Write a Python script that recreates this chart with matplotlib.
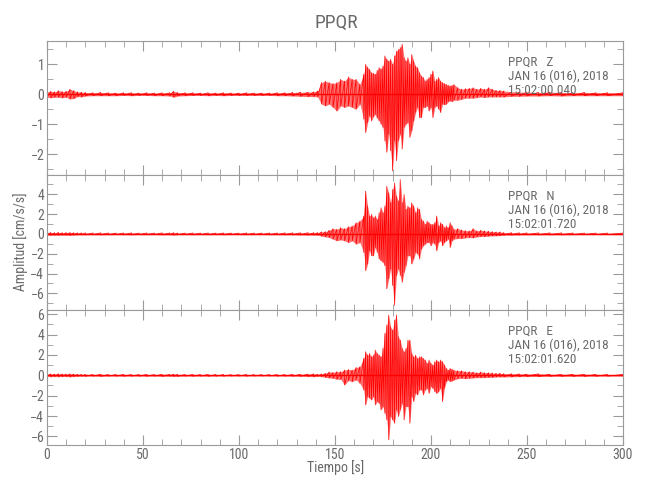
import matplotlib
matplotlib.use("Agg")
import matplotlib.pyplot as plt
from matplotlib.ticker import MultipleLocator

plt.rcParams["font.family"] = ["Roboto Condensed", "Roboto", "DejaVu Sans"]

STATION = "PPQR"
COMPONENTS = ["Z", "N", "E"]
DATE = "JAN 16 (016), 2018"
START_TIMES = ["15:02:00.040", "15:02:01.720", "15:02:01.620"]

# envelope of each trace: time [s], max, min [cm/s/s]
T_QUIET = [0, 2, 4, 6, 8, 10, 12, 14, 16, 18, 20, 24, 28, 32, 36, 40, 44, 48, 52, 56,
           60, 64, 66, 68, 72, 76, 80, 84, 88, 92, 96, 100, 104, 108, 112, 116, 120,
           124, 128, 132, 136, 139]
T_ACTIVE = [141, 143, 145, 147, 149, 151, 153, 155, 157, 159, 161, 163, 165, 166, 167,
            168, 169, 170, 171, 172, 173, 174, 175, 176, 177, 178, 179, 180, 181, 182,
            183, 184, 185, 186, 187, 188, 189, 190, 191, 192, 193, 194, 195, 196, 197,
            198, 199, 200, 201, 202, 203, 204, 205, 206, 207, 208, 209, 210, 211, 212,
            214, 216, 218, 220, 222, 224, 226, 228, 230, 232, 234, 236, 238]
T_CODA = [242, 246, 250, 256, 262, 268, 274, 280, 286, 292, 300]

z_quiet_max = [.08, .10, .08, .12, .09, .10, .17, .12, .08, .07, .06, .05, .06, .05, .04,
               .05, .05, .04, .05, .04, .05, .05, .10, .06, .05, .05, .04, .05, .04, .05,
               .04, .04, .05, .04, .04, .04, .05, .05, .06, .07, .07, .08]
z_quiet_min = [-.10, -.12, -.10, -.10, -.12, -.10, -.16, -.14, -.08, -.09, -.06, -.05, -.05,
               -.05, -.05, -.04, -.05, -.04, -.04, -.05, -.05, -.06, -.10, -.06, -.05, -.04,
               -.04, -.05, -.04, -.05, -.04, -.04, -.04, -.04, -.04, -.04, -.05, -.05, -.06,
               -.07, -.08, -.08]
z_active_max = [.11, .39, .44, .39, .36, .39, .50, .44, .58, .50, .50, .33, .67, 1.00, .90,
                .83, .72, .70, .67, .80, .89, .85, .94, 1.28, 1.17, 1.11, 1.17, 1.00, 1.28,
                1.44, 1.50, 1.56, 1.67, 1.22, 1.11, 1.22, 1.00, 1.33, 1.11, .94, .89, .72,
                .61, .56, .44, .50, .56, .67, .78, .44, .50, .56, .44, .39, .36, .33, .30,
                .28, .30, .33, .22, .17, .19, .20, .22, .17, .20, .17, .22, .17, .13, .13, .11]
z_active_min = [-.09, -.33, -.39, -.33, -.44, -.56, -.39, -.44, -.39, -.44, -.50, -.33, -.83,
                -1.28, -.95, -.72, -.89, -.75, -.67, -.80, -.89, -1.00, -1.11, -1.56, -1.94,
                -1.33, -1.89, -2.56, -1.56, -2.22, -1.56, -1.33, -1.83, -1.11, -1.00, -.94,
                -1.44, -1.22, -.89, -.61, -.44, -.78, -.78, -.44, -.44, -.39, -.56, -.44,
                -.78, -.44, -.39, -.50, -.61, -.33, -.35, -.33, -.25, -.22, -.25, -.20, -.20,
                -.17, -.13, -.13, -.13, -.11, -.09, -.11, -.09, -.09, -.09, -.09, -.09]
z_coda_max = [.08, .07, .07, .06, .07, .06, .05, .06, .05, .05, .05]
z_coda_min = [-.07, -.07, -.06, -.06, -.05, -.06, -.05, -.05, -.05, -.05, -.05]

n_quiet_max = [.15, .14, .12, .15, .12, .13, .14, .12, .10, .10, .10, .09, .10, .09, .08,
               .09, .10, .08, .09, .08, .10, .09, .12, .09, .08, .09, .08, .09, .08, .09,
               .08, .08, .09, .08, .08, .09, .09, .10, .10, .11, .12, .12]
n_quiet_min = [-.15, -.14, -.13, -.14, -.12, -.13, -.15, -.12, -.10, -.10, -.10, -.09, -.10,
               -.09, -.08, -.09, -.10, -.08, -.09, -.08, -.10, -.09, -.12, -.09, -.08, -.09,
               -.08, -.09, -.08, -.09, -.08, -.08, -.09, -.08, -.08, -.09, -.09, -.10, -.10,
               -.11, -.12, -.12]
n_active_max = [.13, .20, .23, .37, .53, .47, .63, .53, .73, .80, 1.13, 1.30, 1.80, 4.30, 2.80,
                1.80, 1.97, 1.63, 1.80, 1.47, 2.13, 2.63, 2.13, 2.80, 4.80, 4.13, 3.13, 4.47,
                5.13, 3.80, 3.30, 5.47, 3.13, 3.97, 2.47, 2.80, 2.63, 3.13, 2.80, 2.13, 2.63,
                2.47, 1.47, 1.30, .97, 1.30, 1.13, .97, .97, 1.13, 1.80, .80, 1.13, .97, .63,
                .80, .63, 1.13, .80, .47, .53, .40, .33, .30, .53, .30, .37, .30, .27, .23,
                .20, .20, .13]
n_active_min = [-.13, -.23, -.30, -.37, -.53, -.70, -.60, -.70, -.87, -.70, -1.03, -.87, -1.87,
                -3.70, -3.03, -1.70, -2.20, -2.20, -1.37, -1.87, -2.53, -2.70, -2.87, -3.20,
                -5.53, -4.53, -3.53, -5.20, -7.20, -4.20, -3.53, -4.20, -4.87, -3.87, -3.20,
                -2.20, -2.20, -3.03, -2.53, -1.87, -2.03, -2.53, -1.53, -1.20, -1.03, -.87,
                -.87, -1.20, -.87, -1.03, -1.70, -.87, -.70, -1.20, -.87, -.70, -.53, -1.37,
                -.70, -.53, -.47, -.47, -.40, -.37, -.40, -.30, -.27, -.27, -.23, -.20, -.20,
                -.17, -.13]
n_coda_max = [.12, .11, .10, .10, .10, .10, .09, .08, .08, .08, .08]
n_coda_min = [-.12, -.11, -.10, -.10, -.10, -.10, -.09, -.08, -.08, -.08, -.08]

e_quiet_max = [.12, .14, .12, .15, .13, .12, .14, .12, .10, .09, .09, .08, .10, .08, .08,
               .09, .08, .08, .09, .08, .10, .09, .12, .10, .08, .09, .08, .09, .08, .08,
               .07, .07, .08, .07, .07, .07, .08, .08, .09, .10, .12, .14]
e_quiet_min = [-.12, -.14, -.12, -.14, -.12, -.12, -.15, -.12, -.10, -.09, -.09, -.08, -.10,
               -.08, -.08, -.09, -.08, -.08, -.09, -.08, -.10, -.09, -.11, -.10, -.08, -.09,
               -.08, -.09, -.08, -.08, -.07, -.07, -.08, -.07, -.07, -.07, -.08, -.08, -.09,
               -.10, -.12, -.14]
e_active_max = [.10, .13, .20, .33, .29, .36, .36, .52, .59, .52, .78, .85, 1.67, 2.32, 1.99,
                2.16, 1.83, 1.99, 2.48, 2.16, 1.99, 1.83, 2.65, 4.12, 4.93, 5.92, 4.77, 4.44,
                5.42, 5.92, 3.79, 3.46, 2.65, 2.32, 2.65, 3.46, 3.46, 2.16, 1.83, 1.99, 1.67,
                1.83, 1.83, 1.67, 1.50, 1.18, 1.50, 1.18, 1.01, 1.34, 1.50, 1.34, 1.50, 1.34,
                1.01, .69, .52, .69, .60, .52, .46, .46, .36, .36, .33, .26, .33, .26, .26,
                .23, .20, .20, .16]
e_active_min = [-.10, -.13, -.20, -.26, -.29, -.39, -.39, -.95, -.52, -.62, -.46, -.78, -1.44,
                -2.91, -2.09, -2.25, -2.42, -2.09, -2.91, -2.58, -2.75, -3.40, -3.07, -3.73,
                -4.38, -6.34, -4.05, -4.38, -4.71, -3.40, -4.05, -3.40, -2.75, -4.38, -3.07,
                -3.07, -4.71, -2.09, -2.58, -1.77, -1.93, -1.44, -1.44, -1.93, -1.44, -1.28,
                -1.77, -1.11, -1.28, -1.60, -1.77, -1.60, -1.28, -2.58, -1.28, -.62, -.46,
                -.62, -.55, -.46, -.33, -.29, -.33, -.29, -.26, -.23, -.23, -.23, -.20, -.20,
                -.16, -.16, -.16]
e_coda_max = [.15, .14, .12, .15, .10, .10, .10, .10, .09, .08, .08]
e_coda_min = [-.15, -.13, -.12, -.12, -.10, -.10, -.10, -.10, -.09, -.08, -.08]

Y_LIMITS = [(-2.7, 1.78), (-7.67, 5.93), (-6.85, 6.42)]
Y_STEPS = [(1, 0.5), (2, 1), (2, 1)]

GREY = "#9a9a9a"
TXT = "#6a6a6a"

traces = [
    (z_quiet_max + z_active_max + z_coda_max, z_quiet_min + z_active_min + z_coda_min),
    (n_quiet_max + n_active_max + n_coda_max, n_quiet_min + n_active_min + n_coda_min),
    (e_quiet_max + e_active_max + e_coda_max, e_quiet_min + e_active_min + e_coda_min),
]
times = T_QUIET + T_ACTIVE + T_CODA

fig = plt.figure(figsize=(6.5, 5), dpi=100)
boxes = [(0.65, 0.268), (0.38, 0.27), (0.11, 0.27)]

for i, (hi, lo) in enumerate(traces):
    bottom, height = boxes[i]
    ax = fig.add_axes([0.0723, bottom, 0.886, height])
    ax.fill_between(times, lo, hi, color="#ff7070", lw=0)
    # zigzag between the read extremes
    xs, ys = [], []
    for t, a, b in zip(times, hi, lo):
        xs += [t, t]
        ys += [a, b]
    ax.plot(xs, ys, color="red", lw=0.5)
    ax.plot(times, [0] * len(times), color="red", lw=1.0)

    ax.set_xlim(0, 300)
    ax.set_ylim(*Y_LIMITS[i])
    ax.xaxis.set_major_locator(MultipleLocator(50))
    ax.xaxis.set_minor_locator(MultipleLocator(10))
    ax.yaxis.set_major_locator(MultipleLocator(Y_STEPS[i][0]))
    ax.yaxis.set_minor_locator(MultipleLocator(Y_STEPS[i][1]))
    ax.tick_params(which="both", direction="in", top=True, right=True,
                   color=GREY, labelcolor=TXT, labelsize=10, pad=2)
    ax.tick_params(which="major", length=7)
    ax.tick_params(which="minor", length=4)
    for s in ax.spines.values():
        s.set_color(GREY)
    if i < 2:
        ax.tick_params(labelbottom=False)

    lines = [f"{STATION}   {COMPONENTS[i]}", DATE, START_TIMES[i]]
    for k, line in enumerate(lines):
        ax.text(240, [0.845, 0.74, 0.63][k], line, transform=ax.get_xaxis_transform(),
                ha="left", va="center", fontsize=9.5, color=TXT)

fig.text(336 / 650, 1 - 22.5 / 500, STATION, ha="center", va="center", fontsize=14,
         color=TXT)
fig.text(336 / 650, 1 - 468 / 500, "Tiempo [s]", ha="center", va="center", fontsize=10,
         color=TXT)
fig.text(21 / 650, 1 - 242 / 500, "Amplitud [cm/s/s]", ha="center", va="center",
         rotation=90, fontsize=10, color=TXT)

fig.savefig("out.png", dpi=100)
